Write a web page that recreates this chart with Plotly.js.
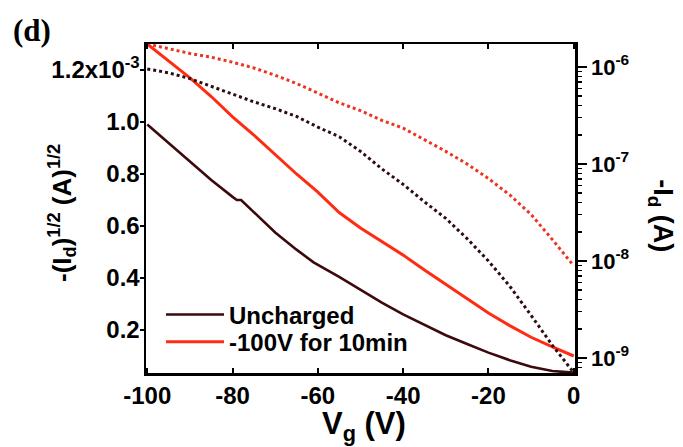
<!DOCTYPE html>
<html>
<head>
<meta charset="utf-8">
<script src="https://cdn.plot.ly/plotly-3.0.1.min.js"></script>
<style>html,body{margin:0;padding:0;background:#fff;}#chart{width:683px;height:447px;}</style>
</head>
<body>
<div id="chart"></div>
<script>
// Gate voltage grid (V)
const vgSolid = [-100,-95,-90,-85,-80,-79,-78,-75,-70,-65,-61,-55,-50,-45,-40,-35,-30,-25,-20,-15,-10,-5,0];
// sqrt(-Id) in A^1/2, uncharged
const sqrtUncharged = [0.99e-3,0.919e-3,0.848e-3,0.777e-3,0.712e-3,0.700e-3,0.700e-3,0.653e-3,0.575e-3,0.509e-3,0.460e-3,0.404e-3,0.354e-3,0.305e-3,0.260e-3,0.219e-3,0.180e-3,0.146e-3,0.113e-3,0.084e-3,0.059e-3,0.042e-3,0.036e-3];

const vgCharged = [-100,-95,-90,-85,-80,-75,-70,-65,-60,-58,-56,-55,-50,-45,-40,-35,-30,-25,-20,-15,-10,-5,0];
// sqrt(-Id) in A^1/2, after -100V for 10 min
const sqrtCharged = [1.30e-3,1.235e-3,1.17e-3,1.098e-3,1.02e-3,0.95e-3,0.875e-3,0.80e-3,0.73e-3,0.698e-3,0.668e-3,0.652e-3,0.592e-3,0.54e-3,0.488e-3,0.431e-3,0.375e-3,0.32e-3,0.265e-3,0.217e-3,0.172e-3,0.135e-3,0.10e-3];

// -Id (A), log scale
const vgLogU = [-100,-95,-90,-85,-80,-78,-75,-70,-65,-60,-55,-50,-45,-40,-35,-30,-25,-20,-15,-10,-5,0];
const idUncharged = [9.55e-7,8.71e-7,7.59e-7,6.31e-7,5.25e-7,4.90e-7,4.37e-7,3.72e-7,3.09e-7,2.40e-7,1.91e-7,1.35e-7,8.91e-8,6.17e-8,4.07e-8,2.75e-8,1.70e-8,1.0e-8,5.50e-9,2.75e-9,1.35e-9,7.08e-10];

const vgLogC = [-100,-95,-90,-85,-80,-75,-70,-65,-60,-55,-50,-45,-40,-35,-30,-25,-20,-15,-10,-5,0];
const idCharged = [1.73e-6,1.55e-6,1.38e-6,1.26e-6,1.12e-6,9.77e-7,8.22e-7,6.76e-7,5.37e-7,4.27e-7,3.55e-7,2.82e-7,2.34e-7,1.78e-7,1.35e-7,1.00e-7,7.08e-8,4.79e-8,3.02e-8,1.66e-8,8.91e-9];

const xTickVals = [-100,-80,-60,-40,-20,0];
const xTickText = ['-100','-80','-60','-40','-20','0'];
const yTickVals = [0.2e-3,0.4e-3,0.6e-3,0.8e-3,1.0e-3,1.2e-3];
const yTickText = ['0.2','0.4','0.6','0.8','1.0','1.2x10<sup>-3</sup>'];
const y2TickVals = [1e-9,1e-8,1e-7,1e-6];
const y2TickText = ['10<sup>-9</sup>','10<sup>-8</sup>','10<sup>-7</sup>','10<sup>-6</sup>'];
const y2MinorVals = [8e-10,9e-10,2e-9,3e-9,4e-9,5e-9,6e-9,7e-9,8e-9,9e-9,2e-8,3e-8,4e-8,5e-8,6e-8,7e-8,8e-8,9e-8,2e-7,3e-7,4e-7,5e-7,6e-7,7e-7,8e-7,9e-7];
const seriesNames = ['Uncharged','-100V for 10min'];

const darkCol = '#3c0a0c';
const redCol = '#ff2c14';
const FONT = 'Liberation Sans, Arial, sans-serif';
const Y2RANGE = [-9.155,-5.763];

const traces = [
  {x: vgSolid, y: sqrtUncharged, name: seriesNames[0], mode:'lines', line:{color:darkCol, width:2.6}, xaxis:'x', yaxis:'y', legend:'legend'},
  {x: vgCharged, y: sqrtCharged, name: seriesNames[1], mode:'lines', line:{color:redCol, width:3}, xaxis:'x', yaxis:'y', legend:'legend2'},
  {x: vgLogU, y: idUncharged, name: seriesNames[0]+' (log)', mode:'lines', showlegend:false, line:{color:'#2e0c14', width:3, dash:'3px,3px'}, xaxis:'x', yaxis:'y2'},
  {x: vgLogC, y: idCharged, name: seriesNames[1]+' (log)', mode:'lines', showlegend:false, line:{color:'#ee3320', width:3, dash:'3px,3px'}, xaxis:'x', yaxis:'y2'},
  // invisible carrier for the minor-tick axis
  {x: vgLogC, y: idCharged, mode:'lines', showlegend:false, hoverinfo:'skip', line:{color:'rgba(0,0,0,0)', width:0}, xaxis:'x', yaxis:'y3'}
];

const tickFont = {family: FONT, size: 24, color:'#000', weight: 700};
const legendFont = {family:FONT, size:24, color:'#000', weight:700};

const layout = {
  width: 683, height: 447,
  margin: {l:146, r:108, t:44, b:74},
  paper_bgcolor:'#fff', plot_bgcolor:'#fff',
  showlegend: true,
  legend: {x:0.035, y:0.245, xanchor:'left', yanchor:'top', bgcolor:'rgba(0,0,0,0)',
           font:legendFont, itemwidth:58},
  legend2: {x:0.035, y:0.162, xanchor:'left', yanchor:'top', bgcolor:'rgba(0,0,0,0)',
           font:legendFont, itemwidth:58},
  xaxis: {range:[-100.3,0.3], tickmode:'array', tickvals:xTickVals, ticktext:xTickText,
          ticks:'inside', ticklen:5, tickwidth:2, tickcolor:'#000',
          showline:true, linewidth:2.5, linecolor:'#000', mirror:'ticks',
          showgrid:false, zeroline:false, tickfont:tickFont},
  yaxis: {range:[0.0346e-3,1.30e-3], tickmode:'array', tickvals:yTickVals, ticktext:yTickText,
          ticks:'outside', ticklen:4, tickwidth:2, tickcolor:'#000', ticklabelstandoff:-5,
          showline:true, linewidth:2.5, linecolor:'#000',
          showgrid:false, zeroline:false, tickfont:tickFont},
  yaxis2: {type:'log', range:Y2RANGE, overlaying:'y', side:'right',
           tickmode:'array', tickvals:y2TickVals, ticktext:y2TickText,
           ticks:'outside', ticklen:9, tickwidth:2, tickcolor:'#000',
           showline:true, linewidth:2.5, linecolor:'#000',
           showgrid:false, zeroline:false, tickfont:{family:FONT, size:22, color:'#000', weight:700}},
  yaxis3: {type:'log', range:Y2RANGE, overlaying:'y', side:'right', anchor:'x',
           tickmode:'array', tickvals:y2MinorVals, showticklabels:false,
           ticks:'outside', ticklen:6, tickwidth:1.5, tickcolor:'#000',
           showline:false, showgrid:false, zeroline:false},
  annotations: [
    {text:'(d)', xref:'paper', yref:'paper', x:-0.314, y:1.10, xanchor:'left', yanchor:'top', showarrow:false,
     font:{family:'Liberation Serif, Times New Roman, serif', size:31, color:'#000', weight:700}},
    {text:'-(I<sub>d</sub>)<sup>1/2</sup> (A)<sup>1/2</sup>', xref:'paper', yref:'paper', x:-0.196, y:0.486,
     xanchor:'center', yanchor:'middle', textangle:-90, showarrow:false,
     font:{family:FONT, size:26, color:'#000', weight:700}},
    {text:'-I<sub>d</sub> (A)', xref:'paper', yref:'paper', x:1.20, y:0.477,
     xanchor:'center', yanchor:'middle', textangle:90, showarrow:false,
     font:{family:FONT, size:27, color:'#000', weight:700}},
    {text:'V<sub>g</sub> (V)', xref:'paper', yref:'paper', x:0.508, y:-0.162,
     xanchor:'center', yanchor:'middle', showarrow:false,
     font:{family:FONT, size:31, color:'#000', weight:700}}
  ]
};

Plotly.newPlot('chart', traces, layout, {displayModeBar:false, staticPlot:true});
</script>
</body>
</html>
